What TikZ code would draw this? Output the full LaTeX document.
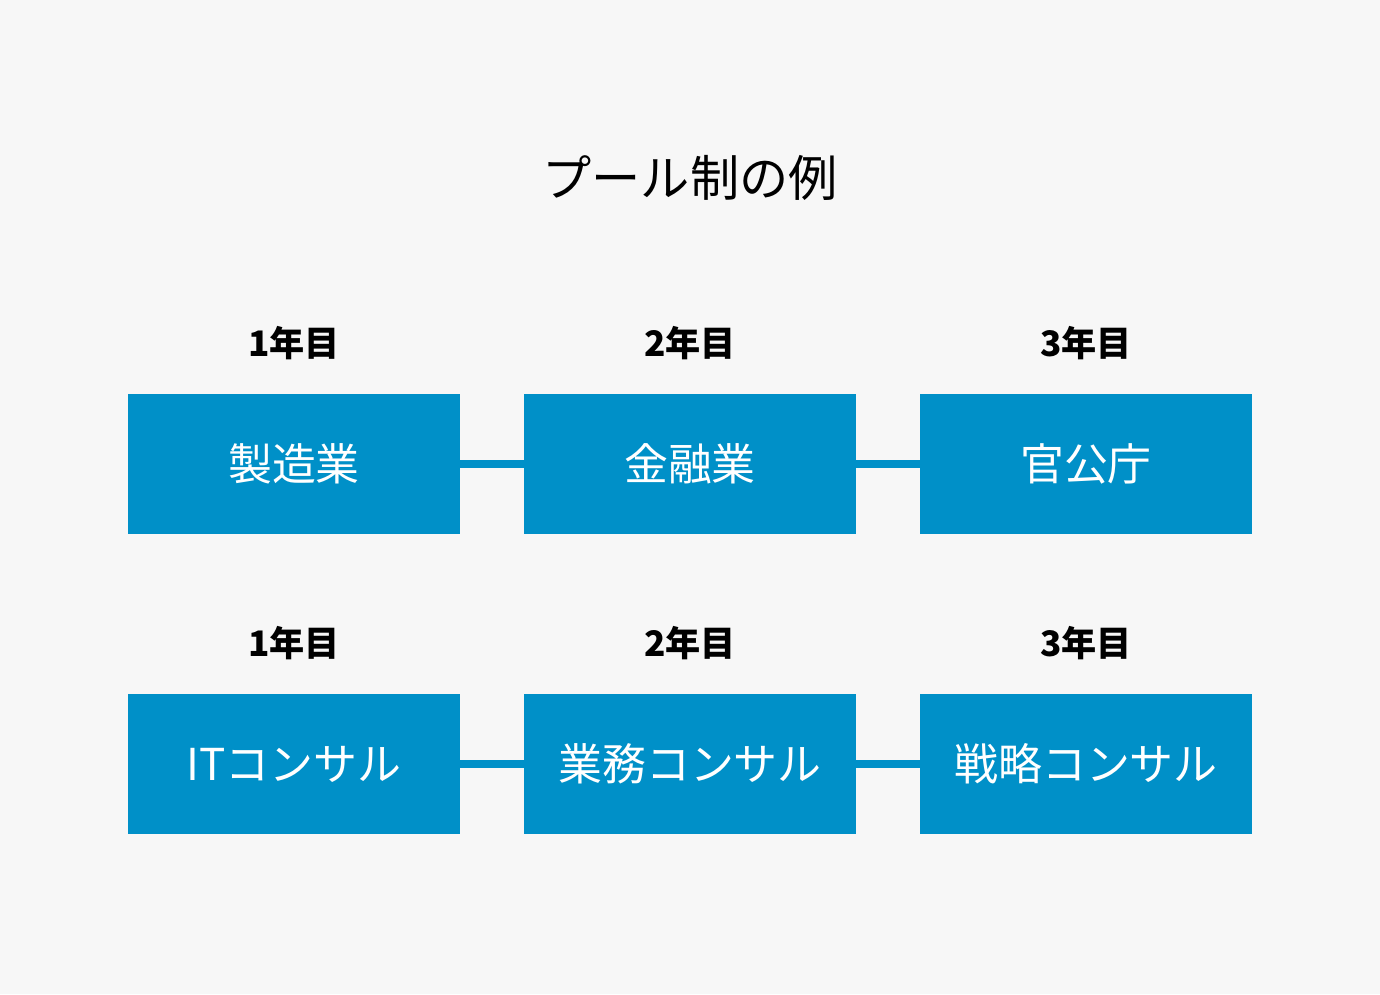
\documentclass[tikz,border=0pt]{standalone}
\usepackage{fontspec}
\setmainfont{Noto Sans CJK JP}
\usetikzlibrary{positioning}
\definecolor{poolblue}{HTML}{0090C8}
\definecolor{paper}{HTML}{F7F7F7}

\begin{document}
\begin{tikzpicture}[
    box/.style={fill=poolblue, text=white, minimum width=6.64cm, minimum height=2.8cm, inner sep=0pt, font=\fontsize{25}{25}\selectfont},
    year/.style={font=\fontsize{20}{20}\selectfont\bfseries},
    link/.style={draw=poolblue, line width=4.5pt}
]
    % background
    \fill[paper] (0,0) rectangle (27.6,19.88);

    % title
    \node (title) at (13.8,16.32) {\fontsize{28}{28}\selectfont プール制の例};

    % first row
    \node[box] (a1) at (5.88,10.6) {製造業};
    \node[box] (a2) at (13.8,10.6) {金融業};
    \node[box] (a3) at (21.72,10.6) {官公庁};

    % second row
    \node[box] (b1) at (5.88,4.6) {ITコンサル};
    \node[box] (b2) at (13.8,4.6) {業務コンサル};
    \node[box] (b3) at (21.72,4.6) {戦略コンサル};

    % year labels
    \foreach \r in {a,b} {
        \node[year, above=0.55cm of \r1] (\r y1) {1年目};
        \node[year, above=0.55cm of \r2] (\r y2) {2年目};
        \node[year, above=0.55cm of \r3] (\r y3) {3年目};
    }

    % connectors
    \draw[link] (a1) -- (a2);
    \draw[link] (a2) -- (a3);
    \draw[link] (b1) -- (b2);
    \draw[link] (b2) -- (b3);
\end{tikzpicture}
\end{document}
